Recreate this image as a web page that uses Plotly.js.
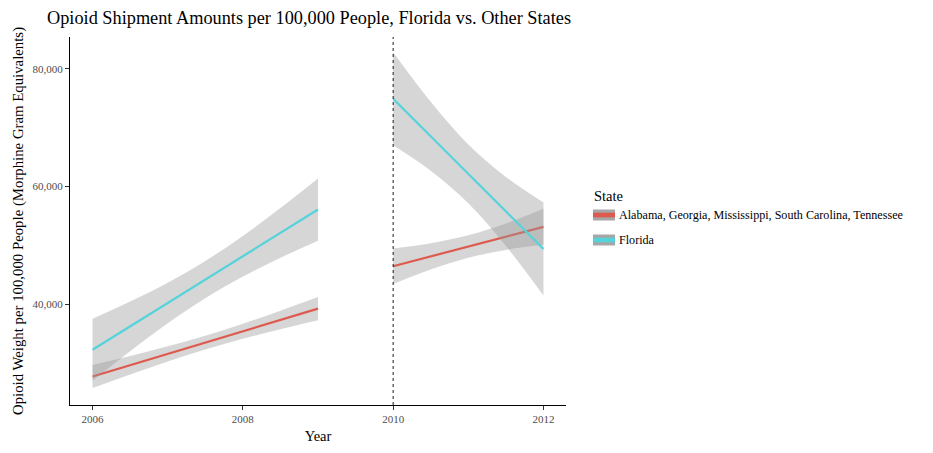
<!DOCTYPE html>
<html>
<head>
<meta charset="utf-8">
<script src="https://cdn.plot.ly/plotly-3.0.1.min.js"></script>
<style>html,body{margin:0;padding:0;background:#fff;}#chart{width:933px;height:453px;}</style>
</head>
<body>
<div id="chart"></div>
<script>
// ---- Data ----
var groupNames = ["Alabama, Georgia, Mississippi, South Carolina, Tennessee", "Florida"];
var tickYears = [2006, 2008, 2010, 2012];
var tickValuesY = [40000, 60000, 80000];
var policyYear = 2010;

// Period 1: 2006-2009
var yearsA = [2006, 2006.5, 2007, 2007.5, 2008, 2008.5, 2009];
var otherFitA = [27750, 29670, 31590, 33510, 35430, 37350, 39270];
var otherLoA  = [25790, 28100, 30305, 32340, 34145, 35780, 37310];
var otherHiA  = [29710, 31240, 32875, 34680, 36715, 38920, 41230];
var floridaFitA = [32300, 36270, 40230, 44200, 48170, 52140, 56100];
var floridaLoA  = [27050, 32050, 36780, 41050, 44720, 47920, 50820];
var floridaHiA  = [37550, 40490, 43680, 47350, 51620, 56360, 61380];

// Period 2: 2010-2012
var yearsB = [2010, 2010.5, 2011, 2011.5, 2012];
var otherFitB = [46470, 48140, 49815, 51490, 53160];
var otherLoB  = [43450, 45900, 47905, 49250, 50100];
var otherHiB  = [49490, 50380, 51725, 53730, 56220];
var floridaFitB = [74900, 68525, 62150, 55775, 49400];
var floridaLoB  = [67000, 62670, 57155, 49920, 41500];
var floridaHiB  = [82800, 74380, 67145, 61630, 57300];

// ---- Styling ----
var FONT = "Liberation Serif, Times New Roman, DejaVu Serif, serif";
var colors = ["#DE5A4E", "#55D3DB"];
var bandFill = "rgba(153,153,153,0.4)";

function band(x, lo, hi) {
  var base = {type: "scatter", mode: "lines", hoverinfo: "skip", showlegend: false};
  var low = Object.assign({}, base, {x: x, y: lo,
    line: {width: 0, color: "rgba(0,0,0,0)", shape: "spline", smoothing: 1}});
  var high = Object.assign({}, base, {x: x, y: hi, fill: "tonexty", fillcolor: bandFill,
    line: {width: 0, color: "rgba(0,0,0,0)", shape: "spline", smoothing: 1}});
  return [low, high];
}
function fit(x, y, color, name) {
  return {x: x, y: y, type: "scatter", mode: "lines", name: name,
    line: {color: color, width: 2.2}, showlegend: false, hoverinfo: "skip"};
}

var traces = [].concat(
  band(yearsA, otherLoA, otherHiA), [fit(yearsA, otherFitA, colors[0], groupNames[0])],
  band(yearsB, otherLoB, otherHiB), [fit(yearsB, otherFitB, colors[0], groupNames[0])],
  band(yearsA, floridaLoA, floridaHiA), [fit(yearsA, floridaFitA, colors[1], groupNames[1])],
  band(yearsB, floridaLoB, floridaHiB), [fit(yearsB, floridaFitB, colors[1], groupNames[1])]
);

// plot area in pixels
var W = 933, H = 453, L = 70, R = 367, T = 37, B = 48;
var pw = W - L - R, ph = H - T - B;
function px(x) { return (x - L) / pw; }
function py(y) { return (H - B - y) / ph; }

var shapes = [{
  type: "line", xref: "x", yref: "paper", x0: policyYear, x1: policyYear, y0: 0, y1: 1,
  line: {color: "black", width: 0.9, dash: "dot"}, layer: "above"
}];
var annotations = [{
  xref: "paper", yref: "paper", x: px(592), y: py(196), xanchor: "left", yanchor: "middle",
  text: "State", showarrow: false, font: {family: FONT, size: 14.5, color: "black"}
}];
var keyY = [215, 240];
for (var i = 0; i < groupNames.length; i++) {
  shapes.push({type: "rect", xref: "paper", yref: "paper",
    x0: px(593), x1: px(615), y0: py(keyY[i] + 5.5), y1: py(keyY[i] - 5.5),
    fillcolor: "#a6a6a6", line: {width: 0}});
  shapes.push({type: "rect", xref: "paper", yref: "paper",
    x0: px(593), x1: px(615), y0: py(keyY[i] + 2.3), y1: py(keyY[i] - 2.3),
    fillcolor: colors[i], line: {width: 0}});
  annotations.push({xref: "paper", yref: "paper", x: px(617), y: py(keyY[i]),
    xanchor: "left", yanchor: "middle", text: groupNames[i], showarrow: false,
    font: {family: FONT, size: 12.1, color: "black"}});
}

var layout = {
  width: W, height: H,
  margin: {l: L, r: R, t: T, b: B, pad: 0},
  paper_bgcolor: "white", plot_bgcolor: "white",
  showlegend: false,
  separators: ".,",
  title: {text: "Opioid Shipment Amounts per 100,000 People, Florida vs. Other States",
    x: 47 / W, xref: "container", xanchor: "left",
    y: 1 - 18 / H, yref: "container", yanchor: "middle",
    font: {family: FONT, size: 18.3, color: "black"}},
  xaxis: {range: [2005.7, 2012.3], tickvals: tickYears, ticktext: tickYears.map(String),
    showgrid: false, zeroline: false, showline: true, linecolor: "black", linewidth: 1.1,
    ticks: "outside", ticklen: 4, tickcolor: "#333", tickwidth: 1,
    tickfont: {family: FONT, size: 11, color: "#4d4d4d"},
    title: {text: "Year", font: {family: FONT, size: 14.5, color: "black"}, standoff: 6}},
  yaxis: {range: [22913, 85393], tickvals: tickValuesY, tickformat: ",",
    showgrid: false, zeroline: false, showline: true, linecolor: "black", linewidth: 1.1,
    ticks: "outside", ticklen: 4, tickcolor: "#333", tickwidth: 1,
    tickfont: {family: FONT, size: 11, color: "#4d4d4d"},
    title: {text: "Opioid Weight per 100,000 People (Morphine Gram Equivalents)",
      font: {family: FONT, size: 14.8, color: "black"}, standoff: 5}},
  shapes: shapes,
  annotations: annotations
};

Plotly.newPlot("chart", traces, layout, {displayModeBar: false, staticPlot: true});
</script>
</body>
</html>
